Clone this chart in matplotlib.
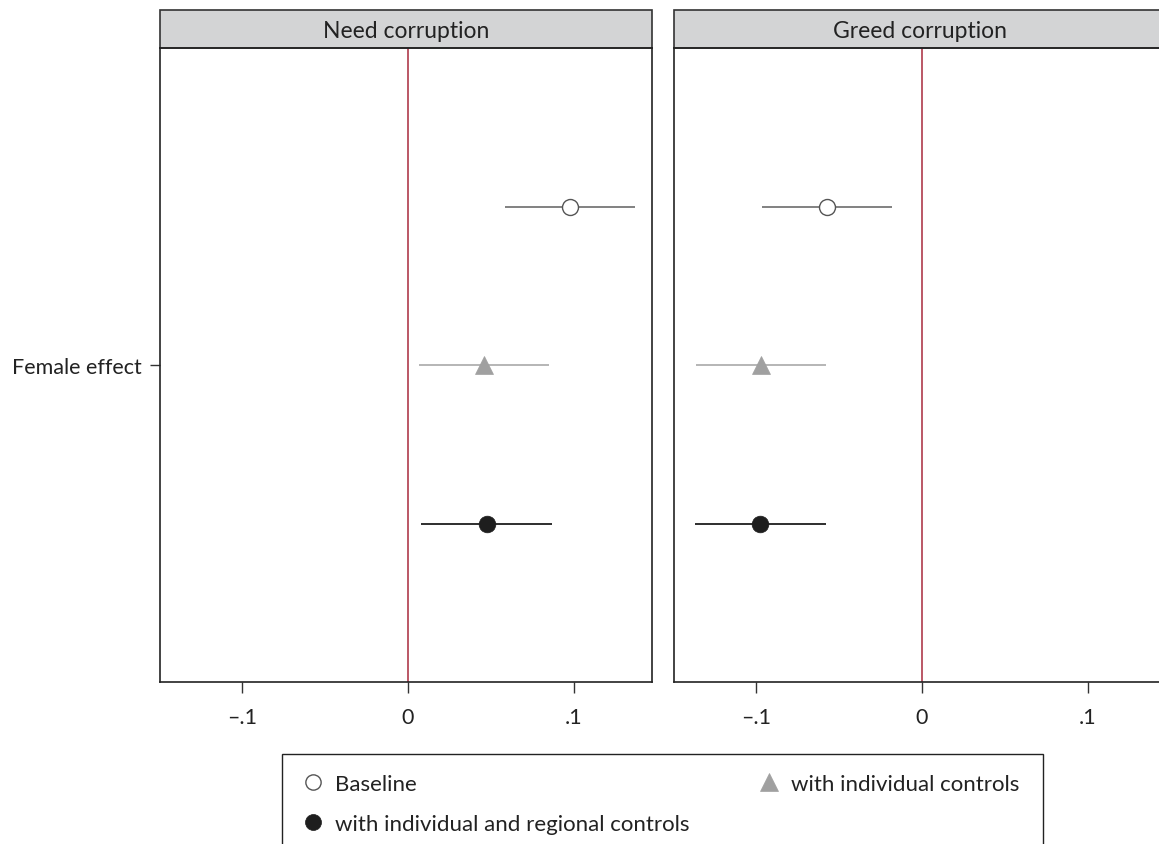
import matplotlib
matplotlib.use("Agg")
import matplotlib.pyplot as plt
from matplotlib.patches import Rectangle
from matplotlib.lines import Line2D

plt.rcParams["font.family"] = ["Lato", "DejaVu Sans"]
plt.rcParams["font.size"] = 15.5

# data: point estimate, lower CI, upper CI
panels = ["Need corruption", "Greed corruption"]
series = ["Baseline", "with individual controls", "with individual and regional controls"]
ypos = [3, 2, 1]
need_est = [0.0976, 0.0458, 0.0476]
need_lo = [0.0584, 0.0066, 0.0078]
need_hi = [0.1367, 0.0849, 0.0867]
greed_est = [-0.0573, -0.0970, -0.0976]
greed_lo = [-0.0963, -0.1361, -0.1367]
greed_hi = [-0.0181, -0.0578, -0.0578]
xticks = [-0.1, 0, 0.1]
xticklabels = ["\u2013.1", "0", ".1"]
ytick_label = "Female effect"

styles = [
    dict(marker="o", mfc="white", mec="#555555", ms=11.5, mew=1.0, line="#777777"),
    dict(marker="^", mfc="#a0a0a0", mec="#a0a0a0", ms=13, mew=0.5, line="#b0b0b0"),
    dict(marker="o", mfc="#1e1e1e", mec="#1e1e1e", ms=12, mew=0.5, line="#1e1e1e"),
]

W, H = 1159, 845
fig = plt.figure(figsize=(W / 100, H / 100), dpi=100)

top_px, bot_px = 49, 683
ax_bottom = 1 - bot_px / H
ax_h = (bot_px - top_px) / H
ax_w = 492 / W
lefts = [160 / W, 674 / W]
data = [(need_est, need_lo, need_hi), (greed_est, greed_lo, greed_hi)]

for k, (title, left) in enumerate(zip(panels, lefts)):
    ax = fig.add_axes([left, ax_bottom, ax_w, ax_h])
    est, lo, hi = data[k]
    ax.axvline(0, color="#a82a3c", lw=1.1, zorder=1)
    for i in range(3):
        st = styles[i]
        ax.hlines(ypos[i], lo[i], hi[i], color=st["line"], lw=1.3, zorder=2)
        ax.plot(est[i], ypos[i], marker=st["marker"], mfc=st["mfc"], mec=st["mec"],
                ms=st["ms"], mew=st["mew"], ls="none", zorder=3)
    ax.set_xlim(-0.1494, 0.147)
    ax.set_ylim(0.0, 4.0)
    ax.set_xticks(xticks)
    ax.set_xticklabels(xticklabels)
    ax.tick_params(axis="x", length=8, width=1.0, color="#333333", pad=10,
                   labelcolor="#222222")
    if k == 0:
        ax.set_yticks([2])
        ax.set_yticklabels([ytick_label])
        ax.tick_params(axis="y", length=7.5, width=1.0, color="#333333", pad=6,
                       labelcolor="#222222")
    else:
        ax.set_yticks([])
    for sp in ax.spines.values():
        sp.set_color("#222222")
        sp.set_linewidth(1.2)
    # strip header
    sh = 38 / (bot_px - top_px)
    ax.add_patch(Rectangle((0, 1), 1, sh, transform=ax.transAxes, clip_on=False,
                           facecolor="#d3d4d5", edgecolor="#333333", lw=1.2))
    ax.text(0.5, 1 + sh / 2 - 0.002, title, transform=ax.transAxes, ha="center",
            va="center", fontsize=16.5, color="#222222")

# legend box (cut off at the bottom in the reference)
fig.add_artist(Rectangle((282 / W, -0.05), (1043 - 282) / W, 0.05 + 1 - 755 / H,
                         transform=fig.transFigure, facecolor="white",
                         edgecolor="#222222", lw=1.0))
leg_ms = [11, 13, 11.5]
handles = [Line2D([], [], ls="none", marker=styles[i]["marker"], mfc=styles[i]["mfc"],
                  mec=styles[i]["mec"], ms=leg_ms[i], mew=styles[i]["mew"])
           for i in range(3)]
order = [0, 2, 1]
fig.legend([handles[i] for i in order], [series[i] for i in order], ncol=2,
           loc="upper left", bbox_to_anchor=(302 / W, 1 - 775 / H),
           frameon=False, handlelength=1.0, handletextpad=0.5, borderpad=0,
           columnspacing=3.05, labelspacing=0.9, fontsize=16, borderaxespad=0,
           labelcolor="#222222")

fig.savefig("out.png", dpi=100)
